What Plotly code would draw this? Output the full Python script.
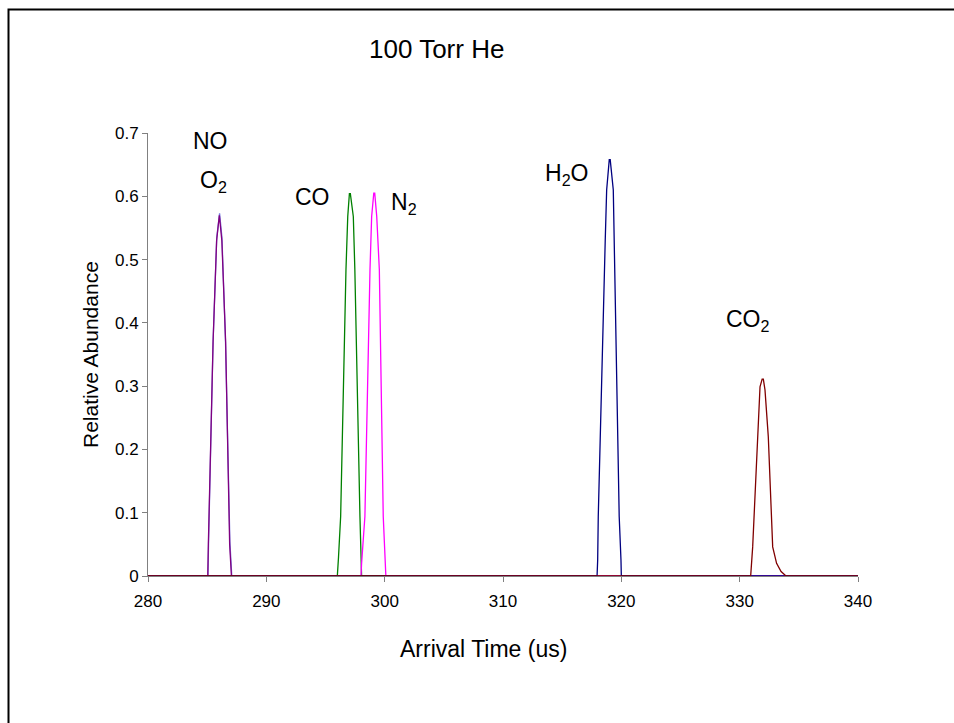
import plotly.graph_objects as go

# ---- data ----
no_x = [280, 285.07, 285.12, 285.5, 285.81, 286.0, 286.05, 286.25, 286.55, 286.92, 287.08, 340]
no_y = [0, 0, 0.054, 0.37, 0.535, 0.573, 0.573, 0.535, 0.37, 0.054, 0, 0]

o2_x = [280, 285.05, 285.1, 285.5, 285.8, 285.98, 286.03, 286.24, 286.56, 286.9, 287.05, 340]
o2_y = [0, 0, 0.05, 0.37, 0.53, 0.57, 0.57, 0.53, 0.37, 0.05, 0, 0]

co_x = [280, 296.0, 296.1, 296.28, 296.73, 296.88, 297.02, 297.1, 297.35, 297.48, 297.91, 298.0, 298.05, 340]
co_y = [0, 0, 0.03, 0.094, 0.484, 0.568, 0.604, 0.604, 0.568, 0.484, 0.094, 0.03, 0, 0]

n2_x = [280, 298.0, 298.05, 298.33, 298.76, 298.9, 299.08, 299.16, 299.33, 299.55, 299.88, 300.05, 300.1, 340]
n2_y = [0, 0, 0.02, 0.094, 0.484, 0.568, 0.605, 0.605, 0.568, 0.484, 0.094, 0.02, 0, 0]

h2o_x = [280, 317.95, 318.0, 318.05, 318.64, 318.76, 318.98, 319.06, 319.32, 319.4, 319.82, 319.97, 320.0, 340]
h2o_y = [0, 0, 0.025, 0.094, 0.531, 0.61, 0.658, 0.658, 0.61, 0.531, 0.094, 0.025, 0, 0]

co2_x = [280, 330.93, 331.1, 331.58, 331.72, 331.9, 332.0, 332.14, 332.42, 332.79, 333.12, 333.5, 333.92, 340]
co2_y = [0, 0, 0.046, 0.252, 0.299, 0.311, 0.311, 0.294, 0.22, 0.046, 0.02, 0.007, 0, 0]

series = [
    ("NO", no_x, no_y, "#7777DD"),
    ("O2", o2_x, o2_y, "#800080"),
    ("CO", co_x, co_y, "#008000"),
    ("N2", n2_x, n2_y, "#FF00FF"),
    ("H2O", h2o_x, h2o_y, "#000080"),
    ("CO2", co2_x, co2_y, "#800000"),
]

labels = ["NO", "O<sub>2</sub>", "CO", "N<sub>2</sub>", "H<sub>2</sub>O", "CO<sub>2</sub>"]
label_x = [285.24, 285.5, 293.94, 301.6, 315.4, 330.7]
label_y = [0.687, 0.623, 0.599, 0.588, 0.635, 0.403]

x_ticks = [280, 290, 300, 310, 320, 330, 340]
y_ticks = [0, 0.1, 0.2, 0.3, 0.4, 0.5, 0.6, 0.7]
y_tick_text = ["0", "0.1", "0.2", "0.3", "0.4", "0.5", "0.6", "0.7"]

FONT = "Liberation Sans, Arial, sans-serif"

fig = go.Figure()
for name, xs, ys, col in series:
    fig.add_trace(go.Scatter(x=xs, y=ys, mode="lines", name=name,
                             line=dict(color=col, width=1.3), showlegend=False))

annotations = []
for t, xv, yv in zip(labels, label_x, label_y):
    annotations.append(dict(x=xv, y=yv, xref="x", yref="y", text=t, showarrow=False,
                            font=dict(size=23, color="black", family=FONT),
                            xanchor="center", yanchor="middle"))

annotations.append(dict(x=0.407, y=1.19, xref="paper", yref="paper", text="100 Torr He",
                        showarrow=False, font=dict(size=26, color="black", family=FONT),
                        xanchor="center", yanchor="middle"))
annotations.append(dict(x=0.472, y=-0.165, xref="paper", yref="paper", text="Arrival Time (us)",
                        showarrow=False, font=dict(size=23, color="black", family=FONT),
                        xanchor="center", yanchor="middle"))
annotations.append(dict(x=-0.081, y=0.5, xref="paper", yref="paper", text="Relative Abundance",
                        showarrow=False, textangle=-90,
                        font=dict(size=21, color="black", family=FONT),
                        xanchor="center", yanchor="middle"))

fig.update_layout(
    width=954, height=723,
    margin=dict(l=148, r=96, t=133, b=147, pad=0),
    paper_bgcolor="white", plot_bgcolor="white",
    font=dict(family=FONT, color="black", size=17),
    annotations=annotations,
    shapes=[dict(type="rect", xref="paper", yref="paper",
                 x0=(8.5 - 148) / 710, x1=(970 - 148) / 710,
                 y0=(576 - 740) / 443, y1=(576 - 9.5) / 443,
                 line=dict(color="black", width=2), fillcolor="rgba(0,0,0,0)", layer="below")],
)

fig.update_xaxes(range=[280, 340], tickvals=x_ticks, ticktext=[str(v) for v in x_ticks],
                 showgrid=False, zeroline=False, showline=True, linecolor="#808080", linewidth=1,
                 ticks="outside", tickcolor="#808080", ticklen=5, tickwidth=1,
                 ticklabelstandoff=5,
                 tickfont=dict(size=17, family=FONT, color="black"))
fig.update_yaxes(range=[0, 0.7], tickvals=y_ticks, ticktext=y_tick_text,
                 showgrid=False, zeroline=False, showline=True, linecolor="#808080", linewidth=1,
                 ticks="outside", tickcolor="#808080", ticklen=5, tickwidth=1,
                 tickfont=dict(size=17, family=FONT, color="black"))

fig.write_html("out.html")
